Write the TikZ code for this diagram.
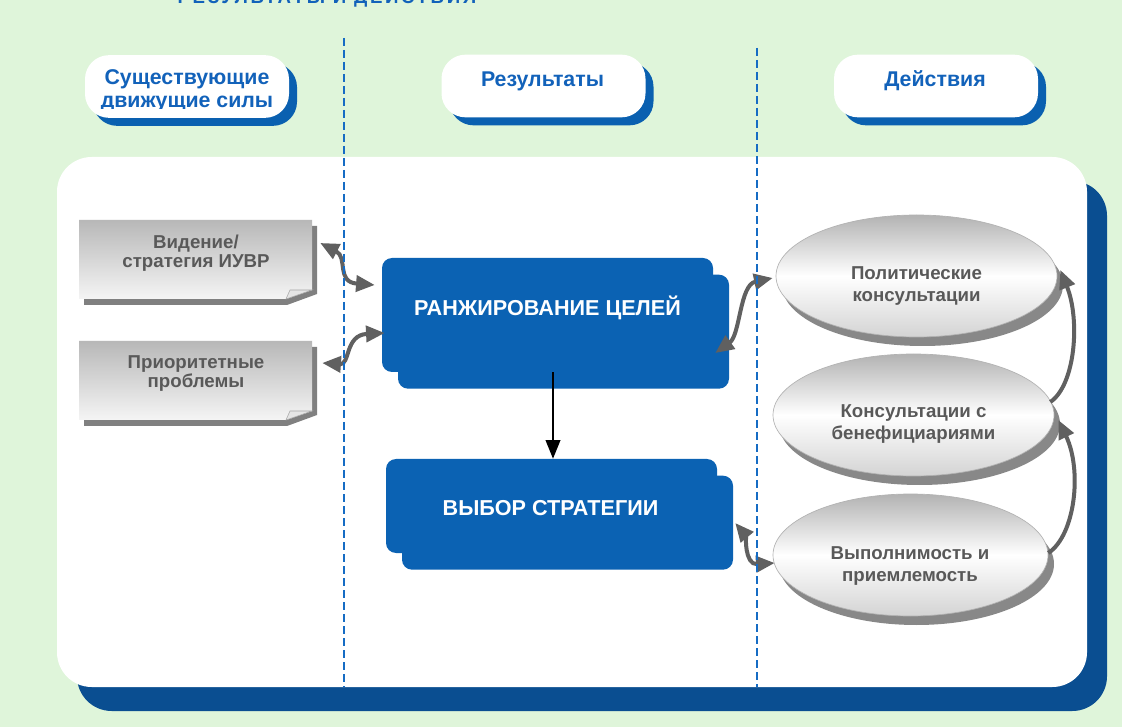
\documentclass[tikz,border=0pt]{standalone}
\usepackage{fontspec}
\setmainfont{Liberation Sans}
\usetikzlibrary{arrows.meta,shapes.geometric,shadows,calc}
\definecolor{bg}{RGB}{223,245,218}
\definecolor{hdrtext}{RGB}{18,98,186}
\definecolor{pillshadow}{RGB}{10,96,176}
\definecolor{boxblue}{RGB}{11,98,179}
\definecolor{panelshadow}{RGB}{10,78,145}
\definecolor{dashblue}{RGB}{22,108,196}
\definecolor{txtgray}{RGB}{89,89,89}
\definecolor{arrowgray}{RGB}{96,96,96}
\definecolor{ovalshadow}{RGB}{136,136,136}
\definecolor{noteshadow}{RGB}{128,128,128}
\begin{document}
\begin{tikzpicture}[x=0.75pt,y=-0.75pt,
  title/.style={anchor=base, inner sep=0pt, text=hdrtext,
    font=\fontsize{14pt}{16pt}\selectfont\bfseries\addfontfeature{LetterSpace=14}},
  pill/.style={rectangle, fill=white, rounded corners=18pt, inner sep=0pt,
    minimum width=153pt, minimum height=47pt,
    drop shadow={shadow xshift=6pt, shadow yshift=-6pt, fill=pillshadow, opacity=1}},
  hdr/.style={anchor=base, align=center, inner sep=0pt, text=hdrtext,
    font=\fontsize{16pt}{17.25pt}\selectfont\bfseries},
  panel/.style={rectangle, fill=white, rounded corners=26pt, inner sep=0pt,
    minimum width=772.5pt, minimum height=397.5pt,
    drop shadow={shadow xshift=15pt, shadow yshift=-18pt, fill=panelshadow, opacity=1}},
  notearea/.style={rectangle, inner sep=0pt, minimum width=174.75pt, minimum height=59.25pt},
  notecard/.pic={
    \fill[noteshadow] (5,6) -- (238,6) -- (238,74) -- (208,85) -- (5,85) -- cycle;
    \shade[top color=black!28, bottom color=black!4]
      (0,0) -- (233,0) -- (233,70) -- (207,79) -- (0,79) -- cycle;
    \filldraw[fill=black!10, draw=black!35, line width=0.4pt]
      (207,79) -- (211,70) -- (233,70) -- cycle;
  },
  graytext/.style={anchor=base, align=center, inner sep=0pt, text=txtgray,
    font=\fontsize{14pt}{14.6pt}\selectfont\bfseries},
  bluebox/.style={rectangle, fill=boxblue, rounded corners=7.5pt, inner sep=0pt,
    minimum width=248.25pt,
    drop shadow={shadow xshift=12pt, shadow yshift=-12.5pt, fill=boxblue, opacity=1}},
  boxtext/.style={anchor=base, inner sep=0pt, text=white,
    font=\fontsize{16.2pt}{18pt}\selectfont\bfseries},
  oval/.style={ellipse, inner sep=0pt, minimum width=210.75pt, minimum height=91.5pt,
    top color=black!30, bottom color=black!17, middle color=white,
    draw=black!30, line width=0.5pt,
    drop shadow={shadow xshift=4.5pt, shadow yshift=-6.75pt, fill=ovalshadow, opacity=1}},
  ovaltext/.style={anchor=base, align=center, inner sep=0pt, text=txtgray,
    font=\fontsize{14pt}{16.5pt}\selectfont\bfseries},
  link/.style={draw=arrowgray, line width=3pt,
    {Triangle[length=14pt,width=12pt]}-{Triangle[length=14pt,width=12pt]}},
  linkone/.style={draw=arrowgray, line width=3pt, -{Triangle[length=14pt,width=12pt]}},
  flow/.style={draw=black, line width=1.3pt, -{Triangle[length=14pt,width=11pt]}},
  sep/.style={draw=dashblue, line width=1.4pt, dash pattern=on 6pt off 3pt}
]
\useasboundingbox (0,0) rectangle (1122,727);
\clip (0,0) rectangle (1122,727);
\fill[bg] (0,0) rectangle (1122,727);

% title (only its lower edge is visible)
\node[title] (title) at (327,4) {РЕЗУЛЬТАТЫ И ДЕЙСТВИЯ};

% header pills
\node[pill] (drv) at (187,86.5) {};
\node[pill] (res) at (543.5,86) {};
\node[pill] (act) at (936,86) {};
\begin{scope}
  \clip (80,50) rectangle (300,108.5);
  \node[hdr] (drv-t) at (187,108) {Существующие\\движущие силы};
\end{scope}
\node[hdr] (res-t) at (542.5,87) {Результаты};
\node[hdr] (act-t) at (935,87) {Действия};

% main panel
\node[panel] (panel) at (572,422) {};

% left note cards
\pic at (79,220) {notecard};
\pic at (79,341) {notecard};
\node[notearea] (vis) at (195.5,259.5) {};
\node[notearea] (pri) at (195.5,380.5) {};
\node[graytext] (vis-t) at (196,268) {Видение/\\стратегия ИУВР};
\node[graytext] (pri-t) at (196,388) {Приоритетные\\проблемы};

% blue boxes
\node[bluebox, minimum height=85.5pt] (rank) at (547.5,315) {};
\node[bluebox, minimum height=70.5pt] (sel) at (551.5,506) {};
\node[boxtext] (rank-t) at (547.5,316) {РАНЖИРОВАНИЕ ЦЕЛЕЙ};
\node[boxtext] (sel-t) at (550.5,515) {ВЫБОР СТРАТЕГИИ};

% ovals
\node[oval] (pol) at (916.5,276) {};
\node[oval] (ben) at (913.5,415) {};
\node[oval, minimum width=206.25pt] (feas) at (910.5,555) {};
\node[ovaltext] (pol-t) at (916.5,302) {Политические\\консультации};
\node[ovaltext] (ben-t) at (913.5,440) {Консультации с\\бенефициариями};
\node[ovaltext] (feas-t) at (910,581) {Выполнимость и\\приемлемость};

% connectors
\draw[link] ($(vis.east)+(8,-16.5)$) .. controls ($(vis.east)+(36,-2)$) and ($(rank.west)+(-46,-33)$) .. ($(rank.west)+(-7,-30)$);
\draw[link] ($(pri.east)+(10,-17.5)$) .. controls ($(pri.east)+(38,-15.5)$) and ($(rank.west)+(-37,20)$) .. ($(rank.west)+(3,18)$);
\draw[link] ($(rank.east)+(2,38)$) .. controls ($(rank.east)+(27,20)$) and ($(pol.west)+(-36,9)$) .. ($(pol.west)+(-3,2)$);
\draw[link] ($(sel.east)+(18,17)$) .. controls ($(sel.east)+(28,29)$) and ($(feas.west)+(-28,10)$) .. ($(feas.west)+(2,8)$);
\draw[linkone] ($(ben.east)+(-4,-13)$) .. controls ($(ben.east)+(21,-30)$) and ($(pol.east)+(23,44)$) .. ($(pol.east)+(3,-6)$);
\draw[linkone] ($(feas.east)+(0,-2)$) .. controls ($(feas.east)+(27,-20)$) and ($(ben.east)+(28,55)$) .. ($(ben.east)+(4,5)$);
\draw[flow] ($(rank.south)+(5.5,0)$) -- ($(sel.north)+(1.5,0)$);

% column separators
\draw[sep] (344,38) -- (344,687);
\draw[sep] (757,48) -- (757,687);
\end{tikzpicture}
\end{document}
